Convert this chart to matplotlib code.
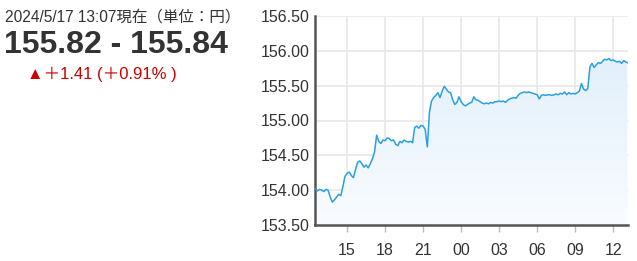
"""
USD/JPY intraday chart with quote header
"""
import numpy as np
import pandas as pd
import matplotlib
matplotlib.use("Agg")
import matplotlib.pyplot as plt
import matplotlib.dates as mdates
from matplotlib.colors import LinearSegmentedColormap

# header texts
stamp_text = "2024/5/17 13:07現在（単位：円）"
quote_text = "155.82 - 155.84"
change_text = "▲＋1.41 (＋0.91% )"

# price every 10 minutes from 2024-05-16 12:30
start_time = "2024-05-16 12:30"
prices = [
    154.02, 153.99, 154.01,
    154.00, 153.98, 154.01, 154.00, 153.90, 153.83,
    153.86, 153.90, 153.94, 153.92, 154.05, 154.20,
    154.24, 154.26, 154.21, 154.18, 154.30, 154.40,
    154.42, 154.38, 154.33, 154.36, 154.32, 154.38,
    154.45, 154.55, 154.79, 154.70, 154.67, 154.72,
    154.71, 154.75, 154.74, 154.71, 154.72, 154.66,
    154.64, 154.70, 154.68, 154.72, 154.70, 154.69,
    154.70, 154.68, 154.90, 154.92, 154.89, 154.93,
    154.92, 154.87, 154.62, 155.12, 155.28, 155.33,
    155.36, 155.40, 155.33, 155.42, 155.49, 155.45,
    155.41, 155.40, 155.30, 155.23, 155.26, 155.34,
    155.27, 155.23, 155.21, 155.23, 155.25, 155.26,
    155.34, 155.30, 155.29, 155.27, 155.25, 155.24,
    155.25, 155.24, 155.26, 155.25, 155.27, 155.27,
    155.28, 155.27, 155.28, 155.26, 155.29, 155.31,
    155.32, 155.33, 155.32, 155.36, 155.39, 155.40,
    155.41, 155.40, 155.41, 155.40, 155.39, 155.38,
    155.37, 155.31, 155.36, 155.37, 155.36, 155.37,
    155.37, 155.36, 155.37, 155.38, 155.37, 155.39,
    155.38, 155.41, 155.37, 155.40, 155.38, 155.39,
    155.38, 155.40, 155.42, 155.53, 155.45, 155.43,
    155.46, 155.77, 155.82, 155.76, 155.80, 155.83,
    155.82, 155.85, 155.88, 155.87, 155.89, 155.86,
    155.87, 155.85, 155.84, 155.85, 155.82, 155.86,
    155.84,
]
last_time = "2024-05-17 13:07"
last_price = 155.83

y_ticks = [153.5, 154.0, 154.5, 155.0, 155.5, 156.0, 156.5]
x_tick_times = ["2024-05-16 15:00", "2024-05-16 18:00", "2024-05-16 21:00",
                "2024-05-17 00:00", "2024-05-17 03:00", "2024-05-17 06:00",
                "2024-05-17 09:00", "2024-05-17 12:00"]
x_range = ["2024-05-16 12:28", "2024-05-17 13:08"]

times = list(pd.date_range(start_time, periods=len(prices), freq="10min"))
times.append(pd.Timestamp(last_time))
values = prices + [last_price]

fig = plt.figure(figsize=(6.37, 2.61), dpi=100)

cjk = ["Liberation Sans", "Noto Sans CJK JP", "DejaVu Sans"]
fig.text(5 / 637, 1 - 17 / 261, stamp_text, family=cjk, fontsize=11.2,
         color="#333333", va="center", ha="left")
fig.text(4 / 637, 1 - 45 / 261, quote_text, family="Liberation Sans",
         fontsize=23, fontweight="bold", color="#333333", va="center", ha="left")
fig.text(27 / 637, 1 - 74 / 261, change_text, family=["Liberation Sans", "DejaVu Sans", "Noto Sans CJK JP"],
         fontsize=12, color="#cc0000", va="center", ha="left")

ax = fig.add_axes([315 / 637, 1 - 225 / 261, (627.5 - 315) / 637, (225 - 16) / 261])
ax.plot(times, values, color="#2b9fe0", lw=1.1, zorder=3)

# gradient fill under the line
poly = ax.fill_between(times, values, 153.5, color="none", lw=0, zorder=2)
x0, x1 = mdates.date2num(pd.Timestamp(x_range[0])), mdates.date2num(pd.Timestamp(x_range[1]))
cmap = LinearSegmentedColormap.from_list("fillgrad", ["#f9fcff", "#e2f0fb"])
grad = np.linspace(0, 1, 256).reshape(-1, 1)
img = ax.imshow(grad, cmap=cmap, aspect="auto", origin="lower",
                extent=[x0, x1, 153.5, max(values)], zorder=2)
img.set_clip_path(poly.get_paths()[0], transform=ax.transData)

ax.set_ylim(153.5, 156.5)
ax.set_xlim(x0, x1)
ax.set_yticks(y_ticks)
ax.set_yticklabels([f"{v:.2f}" for v in y_ticks])
ax.set_xticks([pd.Timestamp(t) for t in x_tick_times])
ax.xaxis.set_major_formatter(mdates.DateFormatter("%H"))

ax.grid(True, color="#e8e8e8", lw=1.2, zorder=0)
ax.set_axisbelow(True)
for side in ["top", "right"]:
    ax.spines[side].set_visible(False)
ax.spines["left"].set_color("#555555")
ax.spines["left"].set_linewidth(1.8)
ax.spines["bottom"].set_color("#555555")
ax.spines["bottom"].set_linewidth(1.8)
ax.tick_params(axis="y", length=0, pad=4, labelsize=11.5, labelcolor="#333333")
ax.tick_params(axis="x", length=5, width=1, color="#bbbbbb", pad=8,
               labelsize=11.5, labelcolor="#333333")
for lbl in ax.get_xticklabels() + ax.get_yticklabels():
    lbl.set_family("Liberation Sans")

fig.savefig("out.png", dpi=100)
